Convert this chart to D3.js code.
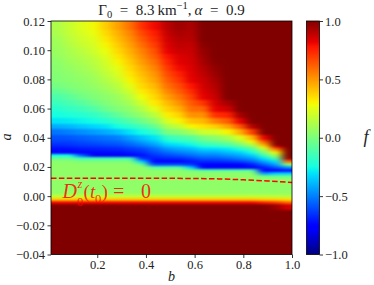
<!DOCTYPE html>
<html><head><meta charset="utf-8">
<script src="https://cdn.jsdelivr.net/npm/d3@7"></script>
<style>body{margin:0;background:#fff}svg{display:block}</style>
</head><body>
<svg id="chart" width="374" height="285"></svg>
<script>
// ---- data ----
const bValues = [0.035,0.085,0.135,0.185,0.235,0.285,0.335,0.385,0.435,0.485,0.535,0.585,0.635,0.685,0.735,0.785,0.835,0.885,0.935,0.985];
const aValues = [-0.036,-0.028,-0.020,-0.012,-0.006,-0.004,-0.002,0.000,0.002,0.004,0.006,0.008,0.010,0.012,0.014,0.016,0.018,0.020,0.022,0.024,0.026,0.028,0.030,0.032,0.034,0.036,0.038,0.040,0.044,0.048,0.052,0.056,0.060,0.064,0.068,0.072,0.076,0.080,0.084,0.088,0.092,0.096,0.100,0.104,0.108,0.112,0.116];
// f values, one array per b column, listed from the lowest a to the highest a
const fGrid = [
[1,1,1,1,1,0.8,0.4,0.18,0.07,0.05,0.05,0.05,0.05,0.05,0.05,0.05,0.05,0.05,0.05,0.03,-0.05,-0.25,-0.78,-0.73,-0.70,-0.66,-0.62,-0.59,-0.52,-0.41,-0.30,-0.25,-0.21,-0.16,-0.12,-0.07,-0.02,0.01,0.02,0.03,0.04,0.06,0.07,0.08,0.09,0.11,0.12],
[1,1,1,1,1,0.8,0.4,0.18,0.07,0.05,0.05,0.05,0.05,0.05,0.05,0.05,0.05,0.05,0.05,0.03,-0.05,-0.25,-0.78,-0.73,-0.69,-0.65,-0.62,-0.58,-0.50,-0.39,-0.29,-0.23,-0.18,-0.13,-0.08,-0.03,0.01,0.03,0.04,0.06,0.08,0.10,0.11,0.13,0.15,0.17,0.18],
[1,1,1,1,1,0.8,0.4,0.18,0.07,0.05,0.05,0.05,0.05,0.05,0.05,0.05,0.05,0.05,0.05,0.0,-0.15,-0.55,-0.77,-0.71,-0.67,-0.63,-0.60,-0.56,-0.47,-0.36,-0.27,-0.21,-0.15,-0.09,-0.03,0.01,0.03,0.05,0.07,0.09,0.11,0.13,0.15,0.18,0.20,0.22,0.24],
[1,1,1,1,1,0.8,0.4,0.18,0.07,0.05,0.05,0.05,0.05,0.05,0.05,0.05,0.05,0.05,0.05,0.0,-0.15,-0.80,-0.74,-0.70,-0.66,-0.62,-0.58,-0.54,-0.44,-0.33,-0.25,-0.18,-0.11,-0.04,0.01,0.03,0.06,0.08,0.10,0.13,0.15,0.17,0.20,0.22,0.24,0.27,0.29],
[1,1,1,1,1,0.8,0.4,0.18,0.07,0.05,0.05,0.05,0.05,0.05,0.05,0.05,0.05,0.05,0.05,0.0,-0.15,-0.80,-0.73,-0.69,-0.65,-0.60,-0.56,-0.52,-0.41,-0.30,-0.21,-0.13,-0.04,0.01,0.04,0.07,0.10,0.13,0.16,0.19,0.21,0.24,0.27,0.30,0.33,0.36,0.39],
[1,1,1,1,1,0.8,0.4,0.18,0.07,0.05,0.05,0.05,0.05,0.05,0.05,0.05,0.05,0.05,0.05,0.0,-0.15,-0.80,-0.73,-0.68,-0.64,-0.59,-0.55,-0.50,-0.37,-0.25,-0.16,-0.07,0.01,0.05,0.08,0.12,0.15,0.19,0.23,0.26,0.30,0.33,0.36,0.39,0.42,0.45,0.48],
[1,1,1,1,1,0.8,0.4,0.18,0.07,0.05,0.05,0.05,0.05,0.05,0.05,0.05,0.05,0.05,0.05,0.0,-0.15,-0.78,-0.70,-0.65,-0.60,-0.55,-0.50,-0.43,-0.30,-0.20,-0.10,0.00,0.05,0.10,0.15,0.20,0.25,0.30,0.33,0.36,0.39,0.42,0.45,0.48,0.51,0.54,0.58],
[1,1,1,1,1,0.8,0.4,0.18,0.07,0.05,0.05,0.05,0.05,0.05,0.05,0.05,0.05,0.05,-0.05,-0.35,-0.65,-0.72,-0.67,-0.62,-0.56,-0.50,-0.43,-0.37,-0.25,-0.14,-0.03,0.06,0.13,0.21,0.28,0.32,0.36,0.39,0.42,0.45,0.49,0.52,0.55,0.59,0.63,0.67,0.72],
[1,1,1,1,1,0.8,0.4,0.18,0.07,0.05,0.05,0.05,0.05,0.05,0.05,0.05,0.03,-0.1,-0.6,-0.75,-0.70,-0.65,-0.60,-0.55,-0.50,-0.43,-0.37,-0.30,-0.18,-0.06,0.05,0.15,0.25,0.32,0.36,0.39,0.43,0.47,0.50,0.54,0.58,0.62,0.65,0.69,0.73,0.76,0.80],
[1,1,1,1,1,0.8,0.4,0.18,0.07,0.05,0.05,0.05,0.05,0.05,0.05,0.05,0.03,-0.1,-0.6,-0.75,-0.68,-0.61,-0.54,-0.47,-0.40,-0.33,-0.26,-0.17,0.00,0.11,0.22,0.31,0.37,0.42,0.48,0.53,0.58,0.62,0.66,0.70,0.74,0.78,0.82,0.84,0.86,0.88,0.90],
[1,1,1,1,1,0.8,0.4,0.18,0.07,0.05,0.05,0.05,0.05,0.05,0.05,0.05,0.03,-0.1,-0.6,-0.75,-0.67,-0.58,-0.50,-0.43,-0.37,-0.30,-0.21,-0.13,0.03,0.17,0.30,0.37,0.44,0.51,0.57,0.62,0.66,0.71,0.75,0.80,0.83,0.84,0.87,0.89,0.91,0.93,0.95],
[1,1,1,1,1,0.8,0.4,0.18,0.07,0.05,0.05,0.05,0.05,0.05,0.05,0.05,-0.02,-0.35,-0.65,-0.71,-0.63,-0.54,-0.47,-0.40,-0.33,-0.26,-0.17,-0.09,0.10,0.30,0.41,0.52,0.59,0.63,0.68,0.73,0.78,0.82,0.83,0.84,0.85,0.86,0.87,0.88,0.90,0.91,0.92],
[1,1,1,1,1,0.8,0.4,0.18,0.07,0.05,0.05,0.05,0.05,0.05,0.05,0.05,-0.10,-0.78,-0.75,-0.67,-0.58,-0.50,-0.42,-0.34,-0.26,-0.17,-0.09,0.00,0.20,0.34,0.43,0.51,0.60,0.71,0.82,0.84,0.86,0.87,0.89,0.91,0.93,0.95,0.96,0.98,1,1,1],
[1,1,1,1,1,0.8,0.4,0.18,0.07,0.05,0.05,0.05,0.05,0.05,0.05,0.05,-0.10,-0.78,-0.75,-0.67,-0.58,-0.50,-0.42,-0.34,-0.25,-0.15,-0.05,0.04,0.21,0.38,0.55,0.72,0.82,0.85,0.87,0.89,0.91,0.93,0.95,0.97,0.99,1,1,1,1,1,1],
[1,1,1,1,1,0.8,0.4,0.18,0.07,0.05,0.05,0.05,0.05,0.05,0.05,0.05,-0.10,-0.78,-0.75,-0.65,-0.55,-0.46,-0.38,-0.30,-0.20,-0.10,0.00,0.10,0.30,0.47,0.62,0.75,0.86,0.93,1,1,1,1,1,1,1,1,1,1,1,1,1],
[1,1,1,1,1,0.8,0.4,0.18,0.07,0.05,0.05,0.05,0.05,0.05,0.05,0.05,-0.10,-0.78,-0.75,-0.62,-0.50,-0.42,-0.34,-0.24,-0.12,0.00,0.12,0.24,0.45,0.64,0.82,0.94,1,1,1,1,1,1,1,1,1,1,1,1,1,1,1],
[1,1,1,1,1,0.8,0.4,0.18,0.07,0.05,0.05,0.05,0.05,0.05,0.05,0.05,-0.10,-0.78,-0.69,-0.56,-0.45,-0.35,-0.24,-0.12,0.00,0.15,0.30,0.43,0.69,0.91,1,1,1,1,1,1,1,1,1,1,1,1,1,1,1,1,1],
[1,1,1,1,1,0.75,0.38,0.17,0.07,0.05,0.05,0.05,0.05,0.05,-0.02,-0.45,-0.78,-0.69,-0.56,-0.43,-0.30,-0.15,0.00,0.15,0.30,0.47,0.64,0.82,1,1,1,1,1,1,1,1,1,1,1,1,1,1,1,1,1,1,1],
[1,1,1,1,0.95,0.7,0.37,0.16,0.07,0.05,0.05,0.05,0.05,0.05,-0.05,-0.35,-0.75,-0.58,-0.43,-0.30,-0.10,0.10,0.30,0.55,0.82,1,1,1,1,1,1,1,1,1,1,1,1,1,1,1,1,1,1,1,1,1,1],
[1,1,1,1,0.85,0.6,0.35,0.15,0.07,0.05,0.05,0.05,0.05,0.05,-0.05,-0.35,-0.72,-0.45,0.05,0.6,0.95,1,1,1,1,1,1,1,1,1,1,1,1,1,1,1,1,1,1,1,1,1,1,1,1,1,1]
];
// dashed curve D0^z(t0) = 0
const lineB = [0.01,0.1,0.2,0.3,0.4,0.5,0.6,0.7,0.8,0.9,0.95,1.0];
const lineA = [0.0123,0.0123,0.0123,0.0123,0.0123,0.0122,0.0121,0.0118,0.0112,0.0104,0.0099,0.0093];
const xTicks = [0.2,0.4,0.6,0.8,1.0];
const yTicks = [-0.04,-0.02,0.00,0.02,0.04,0.06,0.08,0.10,0.12];
const cbTicks = [-1.0,-0.5,0.0,0.5,1.0];

// ---- layout ----
const FONT = "Liberation Serif";
const L = 51, R = 292, T = 21, B = 254.5;
const svg = d3.select("#chart");
const x = d3.scaleLinear().domain([0.01, 1.0]).range([L, R]);
const y = d3.scaleLinear().domain([-0.04, 0.12]).range([B, T]);

// jet colormap
const jetR = d3.scaleLinear().domain([0,0.35,0.66,0.89,1]).range([0,0,1,1,0.5]).clamp(true);
const jetG = d3.scaleLinear().domain([0,0.125,0.375,0.64,0.91,1]).range([0,0,1,1,0,0]).clamp(true);
const jetB = d3.scaleLinear().domain([0,0.11,0.34,0.65,1]).range([0.5,1,1,0,0]).clamp(true);
const tScale = d3.scaleLinear().domain([-1,1]).range([0,1]).clamp(true);
const jet = t => d3.rgb(jetR(t)*255, jetG(t)*255, jetB(t)*255).formatHex();
const color = f => jet(tScale(f));

const defs = svg.append("defs");
defs.append("clipPath").attr("id","plotclip")
  .append("rect").attr("x",L).attr("y",T).attr("width",R-L).attr("height",B-T);
defs.append("filter").attr("id","soft").attr("filterUnits","userSpaceOnUse")
  .attr("x",L-40).attr("y",T-40).attr("width",R-L+80).attr("height",B-T+80)
  .attr("color-interpolation-filters","sRGB")
  .append("feGaussianBlur").attr("stdDeviation","4.5 1.1");

const PAD = 25; // outer cells extended beyond the frame so the softening has no edge
const nB = bValues.length, nA = aValues.length;
const xLo = j => j === 0 ? x(0.01) - PAD : x((bValues[j-1]+bValues[j])/2);
const xHi = j => j === nB-1 ? x(1.0) + PAD : x((bValues[j]+bValues[j+1])/2);
const yBot = i => i === 0 ? y(-0.04) + PAD : y((aValues[i-1]+aValues[i])/2);
const yTop = i => i === nA-1 ? y(0.12) - PAD : y((aValues[i]+aValues[i+1])/2);

const cells = [];
bValues.forEach((b,j) => aValues.forEach((a,i) => cells.push({j,i,b,a,f:fGrid[j][i]})));

svg.append("g").attr("clip-path","url(#plotclip)")
  .append("g").attr("filter","url(#soft)").attr("shape-rendering","crispEdges")
  .selectAll("rect").data(cells).join("rect")
  .attr("x", d => xLo(d.j))
  .attr("width", d => xHi(d.j) - xLo(d.j) + 0.5)
  .attr("y", d => yTop(d.i))
  .attr("height", d => yBot(d.i) - yTop(d.i) + 0.5)
  .attr("fill", d => color(d.f));

// dashed curve
const linePts = lineB.map((b,k) => [b, lineA[k]]);
svg.append("path").datum(linePts)
  .attr("d", d3.line().x(d => x(d[0])).y(d => y(d[1])))
  .attr("fill","none").attr("stroke","#ff0000").attr("stroke-width",1.5)
  .attr("stroke-dasharray","5.5,2.4");

// annotation
const ann = svg.append("g").attr("fill","#ff0000").attr("fill-opacity",0.82).attr("font-family",FONT);
ann.append("text").attr("x",62.5).attr("y",198).attr("font-size",20).attr("font-style","italic").text("D");
ann.append("text").attr("x",77.5).attr("y",188).attr("font-size",12.5).attr("font-style","italic").text("z");
ann.append("text").attr("x",77).attr("y",206).attr("font-size",12.5).text("0");
ann.append("text").attr("x",83.5).attr("y",198).attr("font-size",19).text("(");
ann.append("text").attr("x",90).attr("y",198).attr("font-size",19).attr("font-style","italic").text("t");
ann.append("text").attr("x",95).attr("y",203).attr("font-size",12.5).text("0");
ann.append("text").attr("x",101.5).attr("y",198).attr("font-size",19).text(")");
ann.append("text").attr("x",113).attr("y",198).attr("font-size",20).text("=");
ann.append("text").attr("x",141).attr("y",198).attr("font-size",20).text("0");

// frame
svg.append("rect").attr("x",L).attr("y",T).attr("width",R-L).attr("height",B-T)
  .attr("fill","none").attr("stroke","#000").attr("stroke-width",0.8);

// axes
function styleAxis(g){
  g.select(".domain").remove();
  g.selectAll(".tick line").attr("stroke","#000").attr("stroke-width",0.8);
  g.selectAll(".tick text").attr("font-family",FONT).attr("font-size",12.5).attr("fill","#222");
}
svg.append("g").attr("transform",`translate(0,${B})`)
  .call(d3.axisBottom(x).tickValues(xTicks).tickSize(3.5).tickPadding(2.5).tickFormat(d3.format(".1f")))
  .call(styleAxis);
svg.append("g").attr("transform",`translate(${L},0)`)
  .call(d3.axisLeft(y).tickValues(yTicks).tickSize(3.5).tickPadding(2.5).tickFormat(d3.format(".2f")))
  .call(styleAxis);

// axis labels
svg.append("text").attr("x",171.5).attr("y",281).attr("text-anchor","middle")
  .attr("font-family",FONT).attr("font-style","italic").attr("font-size",14).attr("fill","#222").text("b");
svg.append("text").attr("transform","translate(11,137) rotate(-90)").attr("text-anchor","middle")
  .attr("font-family",FONT).attr("font-style","italic").attr("font-size",14).attr("fill","#222").text("a");

// title
const title = svg.append("text").attr("x",171.5).attr("y",15).attr("text-anchor","middle")
  .attr("font-family",FONT).attr("font-size",15).attr("fill","#222");
title.append("tspan").text("Γ");
title.append("tspan").attr("font-size",10.5).attr("dy",3).text("0");
title.append("tspan").attr("dy",-3).text("\u2002=\u20028.3\u2009km");
title.append("tspan").attr("font-size",10.5).attr("dy",-6).text("−1");
title.append("tspan").attr("dy",6).text(",\u2009");
title.append("tspan").attr("font-style","italic").text("α");
title.append("tspan").text("\u2002=\u20020.9");

// colorbar
const CBL = 306.5, CBR = 319.5;
const cy = d3.scaleLinear().domain([-1,1]).range([B, T]);
const grad = defs.append("linearGradient").attr("id","jetgrad")
  .attr("x1",0).attr("y1",1).attr("x2",0).attr("y2",0);
d3.range(0, 1.0001, 0.01).forEach(t => grad.append("stop").attr("offset",t).attr("stop-color",jet(t)));
svg.append("rect").attr("x",CBL).attr("y",T).attr("width",CBR-CBL).attr("height",B-T)
  .attr("fill","url(#jetgrad)").attr("stroke","#000").attr("stroke-width",0.8);
svg.append("g").attr("transform",`translate(${CBR},0)`)
  .call(d3.axisRight(cy).tickValues(cbTicks).tickSize(3.5).tickPadding(2).tickFormat(d3.format(".1f")))
  .call(styleAxis);
svg.append("text").attr("x",366).attr("y",143).attr("text-anchor","middle")
  .attr("font-family",FONT).attr("font-style","italic").attr("font-size",18).attr("fill","#222").text("f");
</script>
</body></html>
